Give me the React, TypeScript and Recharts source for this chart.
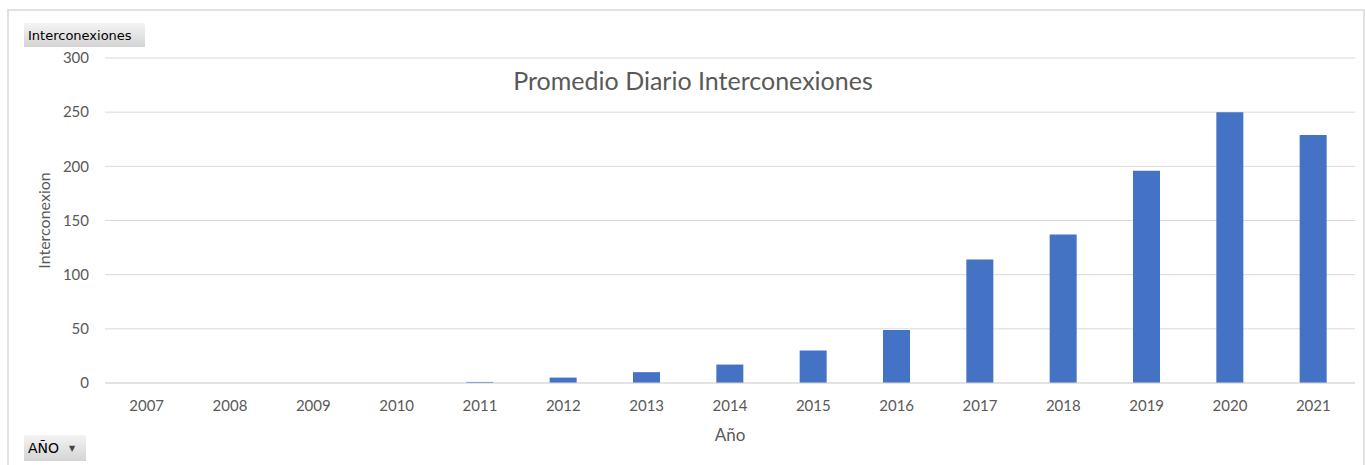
import React from "react";
import { BarChart, Bar, XAxis, YAxis, CartesianGrid, Label } from "recharts";

const years = ["2007", "2008", "2009", "2010", "2011", "2012", "2013", "2014", "2015", "2016", "2017", "2018", "2019", "2020", "2021"];
const interconexiones = [0, 0, 0, 0, 1, 5, 10, 17, 30, 49, 114, 137, 196, 250, 229];
const yTicks = [0, 50, 100, 150, 200, 250, 300];

const data = years.map((y, i) => ({ year: y, value: interconexiones[i] }));

const font = "Lato, 'Liberation Sans', sans-serif";
const grey = "#595959";

const btn: React.CSSProperties = {
  position: "absolute",
  background: "linear-gradient(#f4f4f4, #d4d4d4)",
  fontFamily: "'DejaVu Sans', sans-serif",
  fontSize: 13,
  color: "#000",
  boxSizing: "border-box",
  display: "flex",
  alignItems: "center",
};

export default function App() {
  return (
    <div style={{ position: "absolute", left: 0, top: 0, width: 1365, height: 465, overflow: "hidden", background: "#fff" }}>
      <div style={{ position: "absolute", left: 7, top: 9, width: 1354, height: 470, border: "2px solid #e2e2e2" }} />
      <BarChart
        width={1365}
        height={465}
        data={data}
        margin={{ top: 58, right: 10, left: 0, bottom: 0 }}
        barSize={27}
        style={{ position: "absolute", left: 0, top: 0, fontFamily: font }}
      >
        <CartesianGrid vertical={false} stroke="#d9d9d9" />
        <XAxis
          dataKey="year"
          height={82}
          tickLine={false}
          tickSize={0}
          tickMargin={17}
          axisLine={{ stroke: "#d9d9d9" }}
          tick={{ fill: grey, fontSize: 15 }}
          interval={0}
        >
          <Label value="Año" position="insideBottom" offset={24} fill={grey} fontSize={17} />
        </XAxis>
        <YAxis
          width={105}
          domain={[0, 300]}
          ticks={yTicks}
          tickLine={false}
          tickSize={0}
          tickMargin={16}
          axisLine={false}
          tick={{ fill: grey, fontSize: 15 }}
        >
          <Label value="Interconexion" angle={-90} position="insideLeft" offset={44} fill={grey} fontSize={16} style={{ textAnchor: "middle" }} />
        </YAxis>
        <Bar dataKey="value" fill="#4472c4" isAnimationActive={false} />
      </BarChart>
      <div style={{ position: "absolute", left: 0, width: 1386, top: 65, textAlign: "center", fontFamily: font, fontSize: 25, color: grey }}>
        Promedio Diario Interconexiones
      </div>
      <div style={{ ...btn, left: 24, top: 23, width: 121, height: 24, paddingLeft: 4 }}>Interconexiones</div>
      <div style={{ ...btn, left: 24, top: 435, width: 62, height: 26, paddingLeft: 4, fontSize: 14 }}>
        AÑO
        <span style={{ fontSize: 8, marginLeft: 10, color: "#444" }}>▼</span>
      </div>
    </div>
  );
}
